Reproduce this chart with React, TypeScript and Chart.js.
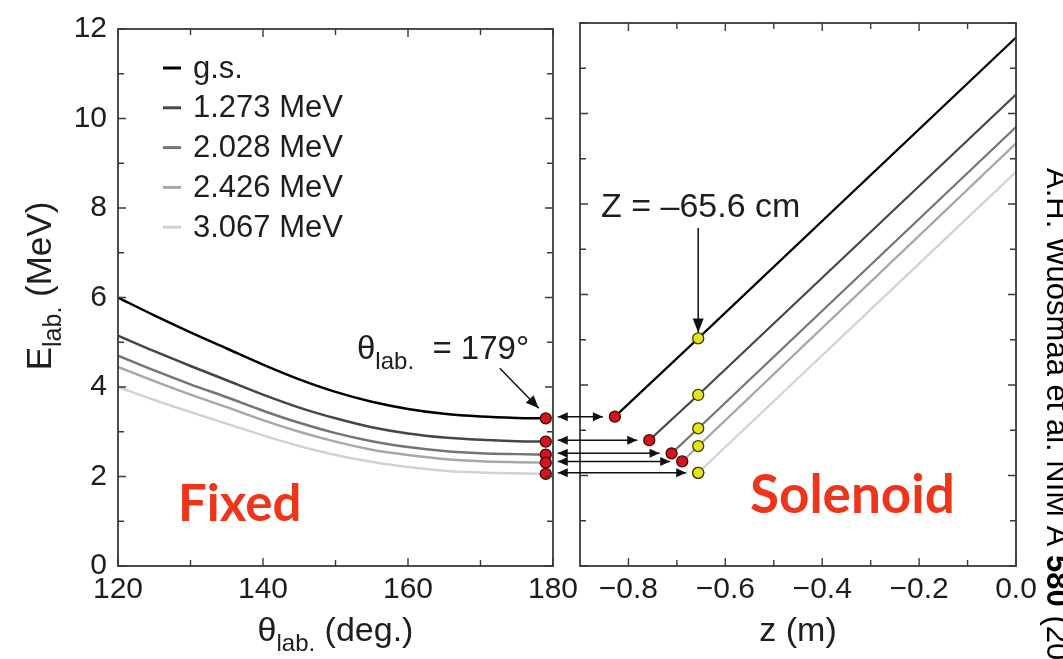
import React, { useEffect, useRef } from 'react';
import { Chart, registerables } from 'chart.js';

Chart.register(...registerables);

// ---------------- data ----------------
const stateLabels = ['g.s.', '1.273 MeV', '2.028 MeV', '2.426 MeV', '3.067 MeV'];
const stateColors = ['#000000', '#464646', '#747474', '#a8a8a8', '#d2d2d2'];

const thetaLab = [120, 125, 130, 135, 140, 145, 150, 155, 160, 165, 170, 175, 179];
const eFixedGs = [6.0, 5.6, 5.22, 4.86, 4.5, 4.17, 3.89, 3.67, 3.51, 3.4, 3.34, 3.31, 3.3];
const eFixed1273 = [5.15, 4.8, 4.47, 4.15, 3.83, 3.54, 3.3, 3.1, 2.96, 2.87, 2.82, 2.79, 2.78];
const eFixed2028 = [4.7, 4.37, 4.06, 3.77, 3.47, 3.2, 2.97, 2.79, 2.66, 2.57, 2.52, 2.5, 2.49];
const eFixed2426 = [4.45, 4.13, 3.83, 3.55, 3.26, 3.0, 2.78, 2.6, 2.48, 2.39, 2.34, 2.32, 2.31];
const eFixed3067 = [4.0, 3.71, 3.44, 3.18, 2.92, 2.68, 2.48, 2.33, 2.21, 2.13, 2.09, 2.07, 2.06];
const eFixedAll = [eFixedGs, eFixed1273, eFixed2028, eFixed2426, eFixed3067];

const thetaMark = 179;
const eAtTheta179 = [3.3, 2.78, 2.49, 2.31, 2.06];

const zStart = [-0.828, -0.757, -0.711, -0.689, -0.656];
const zDetector = -0.656;
const eAtDetector = [5.03, 3.78, 3.04, 2.65, 2.06];
const zEnd = 0;
const eAtZEnd = [11.68, 10.42, 9.7, 9.34, 8.71];

const thetaTicks = [120, 140, 160, 180];
const thetaMinorTicks = [130, 150, 170];
const zTicks = [-0.8, -0.6, -0.4, -0.2, 0];
const zMinorTicks = [-0.7, -0.5, -0.3, -0.1];
const eTicks = [0, 2, 4, 6, 8, 10, 12];
const eMinorTicks = [1, 3, 5, 7, 9, 11];

// ---------------- styling ----------------
const FONT = "'Liberation Sans', Arial, Helvetica, sans-serif";
const RED_FONT = "Lato, 'Open Sans', sans-serif";
const TEXT = '#1e1e1e';
const RED = '#ef341c';
const W = 1063;
const H = 659;

type Part = { t: string; size: number; dy?: number; bold?: boolean };

function partsWidth(ctx: CanvasRenderingContext2D, parts: Part[]) {
  let w = 0;
  for (const p of parts) {
    ctx.font = `${p.bold ? 'bold ' : ''}${p.size}px ${FONT}`;
    w += ctx.measureText(p.t).width;
  }
  return w;
}

function drawParts(ctx: CanvasRenderingContext2D, parts: Part[], x: number, y: number, center: boolean) {
  let cx = center ? x - partsWidth(ctx, parts) / 2 : x;
  ctx.textAlign = 'left';
  ctx.textBaseline = 'alphabetic';
  for (const p of parts) {
    ctx.font = `${p.bold ? 'bold ' : ''}${p.size}px ${FONT}`;
    ctx.fillText(p.t, cx, y + (p.dy || 0));
    cx += ctx.measureText(p.t).width;
  }
}

function arrowHead(ctx: CanvasRenderingContext2D, x1: number, y1: number, x2: number, y2: number, len: number, half: number) {
  const ang = Math.atan2(y2 - y1, x2 - x1);
  const bx = x2 - len * Math.cos(ang);
  const by = y2 - len * Math.sin(ang);
  ctx.beginPath();
  ctx.moveTo(x2, y2);
  ctx.lineTo(bx + half * Math.sin(ang), by - half * Math.cos(ang));
  ctx.lineTo(bx - half * Math.sin(ang), by + half * Math.cos(ang));
  ctx.closePath();
  ctx.fill();
}

function arrow(ctx: CanvasRenderingContext2D, x1: number, y1: number, x2: number, y2: number, len: number, half: number, both: boolean) {
  ctx.beginPath();
  ctx.moveTo(x1, y1);
  ctx.lineTo(x2, y2);
  ctx.stroke();
  arrowHead(ctx, x1, y1, x2, y2, len, half);
  if (both) arrowHead(ctx, x2, y2, x1, y1, len, half);
}

function drawFrame(chart: any, xMajor: number[], xMinor: number[]) {
  const { ctx, chartArea: a, scales } = chart;
  const x = scales.x;
  const y = scales.y;
  ctx.save();
  ctx.strokeStyle = '#3a3a3a';
  ctx.lineWidth = 1.8;
  ctx.strokeRect(a.left, a.top, a.right - a.left, a.bottom - a.top);
  ctx.lineWidth = 1.4;
  ctx.beginPath();
  const xt = (vals: number[], len: number) => {
    for (const v of vals) {
      const p = x.getPixelForValue(v);
      ctx.moveTo(p, a.bottom);
      ctx.lineTo(p, a.bottom - len);
      ctx.moveTo(p, a.top);
      ctx.lineTo(p, a.top + len);
    }
  };
  const yt = (vals: number[], len: number) => {
    for (const v of vals) {
      const p = y.getPixelForValue(v);
      ctx.moveTo(a.left, p);
      ctx.lineTo(a.left + len, p);
      ctx.moveTo(a.right, p);
      ctx.lineTo(a.right - len, p);
    }
  };
  xt(xMajor, 8);
  xt(xMinor, 6);
  yt(eTicks, 8);
  yt(eMinorTicks, 6);
  ctx.stroke();
  ctx.restore();
}

const tickFont = { family: FONT, size: 30 };

export default function App() {
  const leftRef = useRef<HTMLCanvasElement>(null);
  const rightRef = useRef<HTMLCanvasElement>(null);

  useEffect(() => {
    if (!leftRef.current || !rightRef.current) return;

    const leftDatasets: any[] = eFixedAll.map((arr, i) => ({
      label: stateLabels[i],
      data: thetaLab.map((t, j) => ({ x: t, y: arr[j] })),
      showLine: true,
      borderColor: stateColors[i],
      borderWidth: 2.5,
      pointRadius: 0,
      cubicInterpolationMode: 'monotone',
      order: 10 - i,
    }));
    leftDatasets.push({
      label: 'theta179',
      data: eAtTheta179.map((e) => ({ x: thetaMark, y: e })),
      showLine: false,
      pointRadius: 5.5,
      pointBackgroundColor: '#d3141c',
      pointBorderColor: '#4a0000',
      pointBorderWidth: 1.3,
      order: 0,
    });

    const leftPlugin = {
      id: 'leftDecor',
      afterDraw(chart: any) {
        const { ctx, chartArea: a, scales } = chart;
        drawFrame(chart, thetaTicks, thetaMinorTicks);
        ctx.save();
        // legend
        stateLabels.forEach((lab, i) => {
          const yy = 68 + i * 39.8;
          ctx.strokeStyle = stateColors[i];
          ctx.lineWidth = 3;
          ctx.beginPath();
          ctx.moveTo(163, yy);
          ctx.lineTo(181, yy);
          ctx.stroke();
          ctx.fillStyle = TEXT;
          ctx.font = `31px ${FONT}`;
          ctx.textAlign = 'left';
          ctx.textBaseline = 'middle';
          ctx.fillText(lab, 193, yy + 1);
        });
        // Fixed
        ctx.fillStyle = RED;
        ctx.font = `bold 51px ${RED_FONT}`;
        ctx.textAlign = 'left';
        ctx.textBaseline = 'alphabetic';
        ctx.fillText('Fixed', 178, 521);
        // theta annotation
        ctx.fillStyle = TEXT;
        drawParts(ctx, [
          { t: 'θ', size: 33 },
          { t: 'lab.', size: 24, dy: 10 },
          { t: '  = 179°', size: 33 },
        ], 357, 359, false);
        const px = scales.x.getPixelForValue(thetaMark);
        const py = scales.y.getPixelForValue(eAtTheta179[0]);
        ctx.strokeStyle = '#111';
        ctx.fillStyle = '#111';
        ctx.lineWidth = 1.5;
        arrow(ctx, px - 46, py - 50, px - 7, py - 10, 13, 5.5, false);
        // axis titles
        ctx.fillStyle = TEXT;
        drawParts(ctx, [
          { t: 'θ', size: 34 },
          { t: 'lab.', size: 24, dy: 10 },
          { t: ' (deg.)', size: 34 },
        ], (a.left + a.right) / 2, 641, true);
        ctx.save();
        ctx.translate(51, 286);
        ctx.rotate(-Math.PI / 2);
        drawParts(ctx, [
          { t: 'E', size: 35 },
          { t: 'lab.', size: 25, dy: 10 },
          { t: ' (MeV)', size: 35 },
        ], 0, 0, true);
        ctx.restore();
        ctx.restore();
      },
    };

    const leftChart = new Chart(leftRef.current, {
      type: 'scatter',
      data: { datasets: leftDatasets },
      options: {
        animation: false,
        responsive: false,
        maintainAspectRatio: false,
        devicePixelRatio: 1,
        layout: { padding: { left: 0, right: W - 553, top: 23, bottom: 0 } },
        plugins: { legend: { display: false }, tooltip: { enabled: false } },
        scales: {
          x: {
            type: 'linear',
            min: 120,
            max: 180,
            afterBuildTicks: (s: any) => { s.ticks = thetaTicks.map((v) => ({ value: v })); },
            afterFit: (s: any) => { s.height = H - 566; },
            grid: { display: false, drawTicks: false },
            border: { display: false },
            ticks: { font: tickFont, color: TEXT, padding: 6, maxRotation: 0, autoSkip: false },
          },
          y: {
            type: 'linear',
            min: 0,
            max: 12,
            afterBuildTicks: (s: any) => { s.ticks = eTicks.map((v) => ({ value: v })); },
            afterFit: (s: any) => { s.width = 118; },
            grid: { display: false, drawTicks: false },
            border: { display: false },
            ticks: { font: tickFont, color: TEXT, padding: 11, autoSkip: false },
          },
        },
      } as any,
      plugins: [leftPlugin],
    });

    const rightDatasets: any[] = stateLabels.map((lab, i) => ({
      label: lab,
      data: [
        { x: zStart[i], y: eAtTheta179[i] },
        { x: zDetector, y: eAtDetector[i] },
        { x: zEnd, y: eAtZEnd[i] },
      ],
      showLine: true,
      borderColor: stateColors[i],
      borderWidth: 2.2,
      pointRadius: 0,
      order: 10 - i,
    }));
    rightDatasets.push({
      label: 'start',
      data: zStart.map((z, i) => ({ x: z, y: eAtTheta179[i] })),
      showLine: false,
      pointRadius: 5.5,
      pointBackgroundColor: '#d3141c',
      pointBorderColor: '#4a0000',
      pointBorderWidth: 1.3,
      order: 1,
    });
    rightDatasets.push({
      label: 'detector',
      data: eAtDetector.map((e) => ({ x: zDetector, y: e })),
      showLine: false,
      pointRadius: 5.5,
      pointBackgroundColor: '#e4e41c',
      pointBorderColor: '#3a3a00',
      pointBorderWidth: 1.3,
      order: 0,
    });

    const rightPlugin = {
      id: 'rightDecor',
      afterDraw(chart: any) {
        const { ctx, chartArea: a, scales } = chart;
        drawFrame(chart, zTicks, zMinorTicks);
        ctx.save();
        // connecting arrows between panels
        ctx.strokeStyle = '#111';
        ctx.fillStyle = '#111';
        ctx.lineWidth = 1.5;
        const lx = leftChart.scales.x.getPixelForValue(thetaMark) + 12;
        eAtTheta179.forEach((e, i) => {
          const yy = scales.y.getPixelForValue(e);
          const rx = scales.x.getPixelForValue(zStart[i]) - 12;
          arrow(ctx, lx, yy, rx, yy, 10, 4.5, true);
        });
        // Solenoid
        ctx.fillStyle = RED;
        ctx.font = `bold 53px ${RED_FONT}`;
        ctx.textAlign = 'left';
        ctx.textBaseline = 'alphabetic';
        ctx.fillText('Solenoid', 750, 513);
        // Z annotation
        ctx.fillStyle = TEXT;
        ctx.font = `34px ${FONT}`;
        ctx.fillText('Z = \u201365.6 cm', 601, 217);
        const dx = scales.x.getPixelForValue(zDetector);
        const dy = scales.y.getPixelForValue(eAtDetector[0]);
        ctx.fillStyle = '#111';
        arrow(ctx, dx, 228, dx, dy - 6, 14, 5.5, false);
        // axis title
        ctx.fillStyle = TEXT;
        drawParts(ctx, [{ t: 'z (m)', size: 34 }], (a.left + a.right) / 2, 641, true);
        // citation (cut at the page edge)
        ctx.save();
        ctx.translate(1047, 168);
        ctx.rotate(Math.PI / 2);
        ctx.fillStyle = '#000';
        drawParts(ctx, [
          { t: 'A.H. Wuosmaa et al. NIM A ', size: 31 },
          { t: '580', size: 31, bold: true },
          { t: ' (2007) 1290', size: 31 },
        ], 0, 0, false);
        ctx.restore();
        ctx.restore();
      },
    };

    const rightChart = new Chart(rightRef.current, {
      type: 'scatter',
      data: { datasets: rightDatasets },
      options: {
        animation: false,
        responsive: false,
        maintainAspectRatio: false,
        devicePixelRatio: 1,
        layout: { padding: { left: 580, right: W - 1016, top: 23, bottom: 0 } },
        plugins: { legend: { display: false }, tooltip: { enabled: false } },
        scales: {
          x: {
            type: 'linear',
            min: -0.9,
            max: 0,
            afterBuildTicks: (s: any) => { s.ticks = zTicks.map((v) => ({ value: v })); },
            afterFit: (s: any) => { s.height = H - 566; },
            grid: { display: false, drawTicks: false },
            border: { display: false },
            ticks: {
              font: tickFont,
              color: TEXT,
              padding: 6,
              maxRotation: 0,
              autoSkip: false,
              callback: (v: any) => (Number(v) < 0 ? '\u2212' : '') + Math.abs(Number(v)).toFixed(1),
            },
          },
          y: {
            type: 'linear',
            min: 0,
            max: 12,
            display: false,
          },
        },
      } as any,
      plugins: [rightPlugin],
    });

    return () => {
      rightChart.destroy();
      leftChart.destroy();
    };
  }, []);

  const canvasStyle: React.CSSProperties = { position: 'absolute', left: 0, top: 0, width: W, height: H };
  return (
    <div style={{ position: 'fixed', left: 0, top: 0, width: W, height: H, background: '#fff', overflow: 'hidden' }}>
      <canvas ref={leftRef} width={W} height={H} style={canvasStyle} />
      <canvas ref={rightRef} width={W} height={H} style={canvasStyle} />
    </div>
  );
}
